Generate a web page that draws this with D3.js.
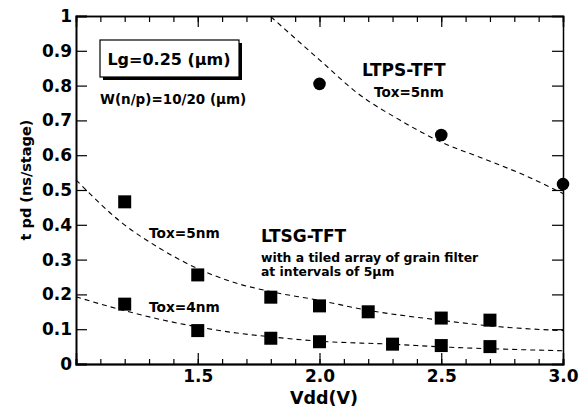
<!DOCTYPE html>
<html>
<head>
<meta charset="utf-8">
<script src="https://cdn.jsdelivr.net/npm/d3@7"></script>
<style>
  body { margin: 0; background: #fff; }
  text { font-family: "DejaVu Sans", sans-serif; font-weight: bold; fill: #000; }
</style>
</head>
<body>
<svg id="chart" width="587" height="413"></svg>
<script>
// measured points
var ltpsVdd = [2.0, 2.5, 3.0];
var ltpsTpd = [0.805, 0.658, 0.517];

var tox5Vdd = [1.2, 1.5, 1.8, 2.0, 2.2, 2.5, 2.7];
var tox5Tpd = [0.466, 0.256, 0.192, 0.167, 0.150, 0.132, 0.126];

var tox4Vdd = [1.2, 1.5, 1.8, 2.0, 2.3, 2.5, 2.7];
var tox4Tpd = [0.172, 0.096, 0.074, 0.064, 0.057, 0.053, 0.050];

// dashed fit curves
var ltpsFitVdd = [1.80, 2.0, 2.166, 2.33, 2.495, 2.67, 2.84, 3.0];
var ltpsFitTpd = [0.998, 0.874, 0.773, 0.701, 0.639, 0.591, 0.543, 0.49];
var tox5FitVdd = [1.0, 1.19, 1.345, 1.497, 1.66, 1.80, 1.99, 2.195, 2.495, 2.74, 3.0];
var tox5FitTpd = [0.529, 0.405, 0.332, 0.275, 0.232, 0.208, 0.184, 0.155, 0.126, 0.107, 0.096];
var tox4FitVdd = [1.0, 1.19, 1.386, 1.497, 1.66, 1.80, 1.99, 2.29, 2.54, 2.74, 3.0];
var tox4FitTpd = [0.193, 0.155, 0.122, 0.107, 0.089, 0.078, 0.066, 0.057, 0.048, 0.043, 0.038];

var xTickLabels = ["1.5", "2.0", "2.5", "3.0"];
var yTickLabels = ["0", "0.1", "0.2", "0.3", "0.4", "0.5", "0.6", "0.7", "0.8", "0.9", "1"];

var svg = d3.select("#chart");
var plotL = 76, plotR = 563, plotT = 16, plotB = 364;

var x = d3.scaleLinear().domain([1.0, 3.0]).range([plotL, plotR]);
var y = d3.scaleLinear().domain([0, 1]).range([plotB, plotT]);

var minorX = d3.range(1.0, 3.001, 0.1).map(function(v) { return +v.toFixed(1); });
var majorX = [1.5, 2.0, 2.5];
var yTicks = d3.range(0, 1.001, 0.1).map(function(v) { return +v.toFixed(1); });

// bottom axis
var xb = svg.append("g").attr("transform", "translate(0," + plotB + ")")
  .call(d3.axisBottom(x).tickValues(minorX).tickSize(-5).tickFormat(""));
svg.append("g").attr("transform", "translate(0," + plotB + ")")
  .call(d3.axisBottom(x).tickValues(majorX).tickSize(-11).tickFormat(""));
var xlab = svg.append("g").attr("transform", "translate(0," + plotB + ")")
  .call(d3.axisBottom(x).tickValues([1.5, 2.0, 2.5, 3.0]).tickSize(0).tickPadding(6)
    .tickFormat(function(d, i) { return xTickLabels[i]; }));
xlab.select(".domain").remove();
xlab.selectAll("text").style("font-size", "17px");

// top axis
svg.append("g").attr("transform", "translate(0," + plotT + ")")
  .call(d3.axisTop(x).tickValues(minorX).tickSize(-6).tickFormat(""));
svg.append("g").attr("transform", "translate(0," + plotT + ")")
  .call(d3.axisTop(x).tickValues(majorX).tickSize(-11).tickFormat(""));

// left axis
var yl = svg.append("g").attr("transform", "translate(" + plotL + ",0)")
  .call(d3.axisLeft(y).tickValues(yTicks).tickSize(-11)
    .tickFormat(function(d, i) { return yTickLabels[i]; }));
yl.selectAll("text").style("font-size", "17px").attr("x", -4);

// right axis
svg.append("g").attr("transform", "translate(" + plotR + ",0)")
  .call(d3.axisRight(y).tickValues(yTicks).tickSize(-11).tickFormat(""));

svg.selectAll(".domain").attr("stroke", "#000").attr("stroke-width", 1.5);
svg.selectAll(".tick line").attr("stroke", "#000").attr("stroke-width", 1.2);
xb.select(".domain").attr("stroke-width", 2);
yl.select(".domain").attr("stroke-width", 2);

// dashed fits
var line = d3.line().curve(d3.curveMonotoneX)
  .x(function(d) { return x(d[0]); })
  .y(function(d) { return y(d[1]); });

[[ltpsFitVdd, ltpsFitTpd], [tox5FitVdd, tox5FitTpd], [tox4FitVdd, tox4FitTpd]].forEach(function(f) {
  svg.append("path")
    .datum(d3.zip(f[0], f[1]))
    .attr("d", line)
    .attr("fill", "none")
    .attr("stroke", "#000")
    .attr("stroke-width", 1.1)
    .attr("stroke-dasharray", "5,4");
});

// markers
svg.selectAll(".ltps").data(d3.zip(ltpsVdd, ltpsTpd)).enter().append("circle")
  .attr("class", "ltps")
  .attr("cx", function(d) { return x(d[0]); })
  .attr("cy", function(d) { return y(d[1]); })
  .attr("r", 6.3)
  .attr("fill", "#000");

var sq = 13;
svg.selectAll(".sq").data(d3.zip(tox5Vdd, tox5Tpd).concat(d3.zip(tox4Vdd, tox4Tpd))).enter().append("rect")
  .attr("class", "sq")
  .attr("x", function(d) { return x(d[0]) - sq / 2; })
  .attr("y", function(d) { return y(d[1]) - sq / 2; })
  .attr("width", sq)
  .attr("height", sq)
  .attr("fill", "#000");

// Lg box with shadow
svg.append("rect").attr("x", 103).attr("y", 43).attr("width", 139).attr("height", 37).attr("fill", "#000");
svg.append("rect").attr("x", 100).attr("y", 40).attr("width", 139).attr("height", 37)
  .attr("fill", "#fff").attr("stroke", "#000").attr("stroke-width", 1.2);
svg.append("text").attr("x", 169).attr("y", 65).attr("text-anchor", "middle")
  .style("font-size", "16px").text("Lg=0.25 (\u03bcm)");
svg.append("text").attr("x", 100).attr("y", 104).style("font-size", "13.5px").text("W(n/p)=10/20 (\u03bcm)");

// annotations
svg.append("text").attr("x", 362).attr("y", 76).style("font-size", "17px").text("LTPS-TFT");
svg.append("text").attr("x", 374).attr("y", 97).style("font-size", "13.5px").text("Tox=5nm");
svg.append("text").attr("x", 149).attr("y", 238).style("font-size", "13.7px").text("Tox=5nm");
svg.append("text").attr("x", 149).attr("y", 312).style("font-size", "13.7px").text("Tox=4nm");
svg.append("text").attr("x", 261).attr("y", 242).style("font-size", "17px").text("LTSG-TFT");
svg.append("text").attr("x", 261).attr("y", 262).style("font-size", "12.4px").text("with a tiled array of grain filter");
svg.append("text").attr("x", 261).attr("y", 276).style("font-size", "12.4px").text("at intervals of 5\u03bcm");

// axis titles
svg.append("text").attr("x", 324).attr("y", 404).attr("text-anchor", "middle")
  .style("font-size", "17.5px").text("Vdd(V)");
svg.append("text").attr("transform", "translate(31,180) rotate(-90)").attr("text-anchor", "middle")
  .style("font-size", "14.5px").text("t pd (ns/stage)");
</script>
</body>
</html>
